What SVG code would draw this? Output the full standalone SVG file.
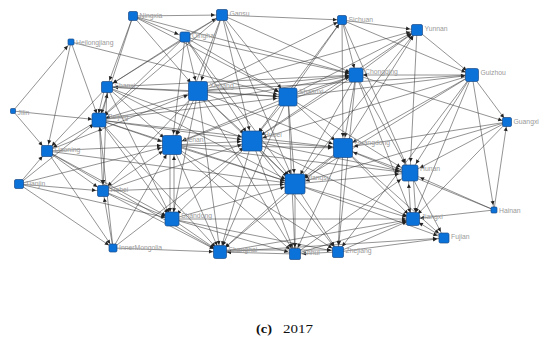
<svg xmlns="http://www.w3.org/2000/svg" width="550" height="346" viewBox="0 0 550 346">
<style>
.e line{stroke:#3a3a3a;stroke-width:0.55;fill:none}
.s{marker-end:url(#as)}
.m{marker-end:url(#am)}
.l{marker-end:url(#al)}
.node rect{fill:#0b72d9;stroke:#1d4a86;stroke-width:0.7}
.node text{font-family:"Liberation Sans",Arial,sans-serif;font-size:6.8px;fill:#999}
.cap{font-family:"Liberation Serif","Times New Roman",serif;font-size:13.5px;fill:#111}
</style>
<defs>
<marker id="as" markerWidth="20" markerHeight="6" refX="9" refY="2" orient="auto" markerUnits="userSpaceOnUse" overflow="visible"><path d="M0,0L4,2L0,4z" fill="#222"/></marker>
<marker id="am" markerWidth="20" markerHeight="6" refX="11" refY="2" orient="auto" markerUnits="userSpaceOnUse" overflow="visible"><path d="M0,0L4,2L0,4z" fill="#222"/></marker>
<marker id="al" markerWidth="20" markerHeight="6" refX="15" refY="2" orient="auto" markerUnits="userSpaceOnUse" overflow="visible"><path d="M0,0L4,2L0,4z" fill="#222"/></marker>
</defs>
<rect width="550" height="346" fill="#fff"/>
<g id="connectors" class="e">
<line x1="133" y1="16" x2="222" y2="15" class="m"/>
<line x1="133" y1="16" x2="107" y2="87" class="m"/>
<line x1="133" y1="16" x2="99" y2="120" class="m"/>
<line x1="133" y1="16" x2="198" y2="91" class="l"/>
<line x1="133" y1="16" x2="356" y2="75" class="m"/>
<line x1="133" y1="16" x2="288" y2="97" class="l"/>
<line x1="133" y1="16" x2="185" y2="37" class="m"/>
<line x1="222" y1="15" x2="342" y2="20" class="s"/>
<line x1="185" y1="37" x2="222" y2="15" class="m"/>
<line x1="222" y1="15" x2="198" y2="91" class="l"/>
<line x1="222" y1="15" x2="288" y2="97" class="l"/>
<line x1="222" y1="15" x2="356" y2="75" class="m"/>
<line x1="222" y1="15" x2="172" y2="145" class="l"/>
<line x1="222" y1="15" x2="252" y2="141" class="l"/>
<line x1="222" y1="15" x2="295" y2="184" class="l"/>
<line x1="222" y1="15" x2="99" y2="120" class="m"/>
<line x1="222" y1="15" x2="107" y2="87" class="m"/>
<line x1="185" y1="37" x2="198" y2="91" class="l"/>
<line x1="185" y1="37" x2="172" y2="145" class="l"/>
<line x1="185" y1="37" x2="99" y2="120" class="m"/>
<line x1="185" y1="37" x2="288" y2="97" class="l"/>
<line x1="185" y1="37" x2="356" y2="75" class="m"/>
<line x1="185" y1="37" x2="252" y2="141" class="l"/>
<line x1="185" y1="37" x2="295" y2="184" class="l"/>
<line x1="185" y1="37" x2="107" y2="87" class="m"/>
<line x1="342" y1="20" x2="417" y2="30" class="m"/>
<line x1="342" y1="20" x2="356" y2="75" class="m"/>
<line x1="342" y1="20" x2="472" y2="75" class="m"/>
<line x1="288" y1="97" x2="342" y2="20" class="s"/>
<line x1="198" y1="91" x2="342" y2="20" class="s"/>
<line x1="342" y1="20" x2="252" y2="141" class="l"/>
<line x1="342" y1="20" x2="410" y2="173" class="l"/>
<line x1="342" y1="20" x2="343" y2="148" class="l"/>
<line x1="417" y1="30" x2="472" y2="75" class="m"/>
<line x1="356" y1="75" x2="417" y2="30" class="m"/>
<line x1="288" y1="97" x2="417" y2="30" class="m"/>
<line x1="252" y1="141" x2="417" y2="30" class="m"/>
<line x1="417" y1="30" x2="410" y2="173" class="l"/>
<line x1="343" y1="148" x2="417" y2="30" class="m"/>
<line x1="295" y1="184" x2="417" y2="30" class="m"/>
<line x1="198" y1="91" x2="417" y2="30" class="m"/>
<line x1="71" y1="42" x2="47" y2="151" class="m"/>
<line x1="71" y1="42" x2="99" y2="120" class="m"/>
<line x1="13" y1="111" x2="71" y2="42" class="s"/>
<line x1="71" y1="42" x2="288" y2="97" class="l"/>
<line x1="13" y1="111" x2="99" y2="120" class="m"/>
<line x1="13" y1="111" x2="47" y2="151" class="m"/>
<line x1="105" y1="87" x2="97" y2="120" class="m"/>
<line x1="101" y1="120" x2="109" y2="87" class="m"/>
<line x1="198" y1="91" x2="107" y2="87" class="m"/>
<line x1="107" y1="87" x2="47" y2="151" class="m"/>
<line x1="107" y1="87" x2="103" y2="191" class="m"/>
<line x1="107" y1="87" x2="172" y2="219" class="m"/>
<line x1="107" y1="87" x2="172" y2="145" class="l"/>
<line x1="107" y1="87" x2="288" y2="97" class="l"/>
<line x1="107" y1="87" x2="252" y2="141" class="l"/>
<line x1="107" y1="87" x2="295" y2="184" class="l"/>
<line x1="107" y1="87" x2="356" y2="75" class="m"/>
<line x1="99" y1="120" x2="47" y2="151" class="m"/>
<line x1="19" y1="184" x2="99" y2="120" class="m"/>
<line x1="99" y1="120" x2="103" y2="191" class="m"/>
<line x1="198" y1="91" x2="99" y2="120" class="m"/>
<line x1="99" y1="120" x2="172" y2="145" class="l"/>
<line x1="99" y1="120" x2="288" y2="97" class="l"/>
<line x1="99" y1="120" x2="252" y2="141" class="l"/>
<line x1="99" y1="120" x2="295" y2="184" class="l"/>
<line x1="99" y1="120" x2="343" y2="148" class="l"/>
<line x1="99" y1="120" x2="172" y2="219" class="m"/>
<line x1="99" y1="120" x2="220" y2="252" class="m"/>
<line x1="113" y1="248" x2="99" y2="120" class="m"/>
<line x1="99" y1="120" x2="356" y2="75" class="m"/>
<line x1="19" y1="184" x2="47" y2="151" class="m"/>
<line x1="47" y1="151" x2="103" y2="191" class="m"/>
<line x1="47" y1="151" x2="172" y2="219" class="m"/>
<line x1="47" y1="151" x2="220" y2="252" class="m"/>
<line x1="47" y1="151" x2="172" y2="145" class="l"/>
<line x1="47" y1="151" x2="198" y2="91" class="l"/>
<line x1="47" y1="151" x2="295" y2="184" class="l"/>
<line x1="47" y1="151" x2="113" y2="248" class="s"/>
<line x1="19" y1="184" x2="103" y2="191" class="m"/>
<line x1="19" y1="184" x2="172" y2="219" class="m"/>
<line x1="19" y1="184" x2="113" y2="248" class="s"/>
<line x1="19" y1="184" x2="172" y2="145" class="l"/>
<line x1="103" y1="191" x2="172" y2="145" class="l"/>
<line x1="113" y1="248" x2="103" y2="191" class="m"/>
<line x1="103" y1="191" x2="172" y2="219" class="m"/>
<line x1="103" y1="191" x2="295" y2="184" class="l"/>
<line x1="103" y1="191" x2="220" y2="252" class="m"/>
<line x1="103" y1="191" x2="252" y2="141" class="l"/>
<line x1="198" y1="91" x2="103" y2="191" class="m"/>
<line x1="113" y1="248" x2="220" y2="252" class="m"/>
<line x1="113" y1="248" x2="172" y2="145" class="l"/>
<line x1="113" y1="248" x2="252" y2="141" class="l"/>
<line x1="198" y1="91" x2="288" y2="97" class="l"/>
<line x1="198" y1="91" x2="172" y2="145" class="l"/>
<line x1="198" y1="91" x2="172" y2="219" class="m"/>
<line x1="198" y1="91" x2="220" y2="252" class="m"/>
<line x1="198" y1="91" x2="252" y2="141" class="l"/>
<line x1="198" y1="91" x2="295" y2="184" class="l"/>
<line x1="198" y1="91" x2="356" y2="75" class="m"/>
<line x1="198" y1="91" x2="343" y2="148" class="l"/>
<line x1="198" y1="91" x2="295" y2="254" class="m"/>
<line x1="198" y1="91" x2="472" y2="75" class="m"/>
<line x1="288" y1="97" x2="356" y2="75" class="m"/>
<line x1="288" y1="97" x2="252" y2="141" class="l"/>
<line x1="288" y1="97" x2="172" y2="145" class="l"/>
<line x1="288" y1="97" x2="295" y2="184" class="l"/>
<line x1="288" y1="97" x2="343" y2="148" class="l"/>
<line x1="288" y1="97" x2="410" y2="173" class="l"/>
<line x1="288" y1="97" x2="295" y2="254" class="m"/>
<line x1="288" y1="97" x2="220" y2="252" class="m"/>
<line x1="288" y1="97" x2="472" y2="75" class="m"/>
<line x1="472" y1="75" x2="356" y2="75" class="m"/>
<line x1="356" y1="75" x2="343" y2="148" class="l"/>
<line x1="356" y1="75" x2="410" y2="173" class="l"/>
<line x1="356" y1="75" x2="413" y2="219" class="m"/>
<line x1="356" y1="75" x2="252" y2="141" class="l"/>
<line x1="356" y1="75" x2="172" y2="145" class="l"/>
<line x1="356" y1="75" x2="295" y2="184" class="l"/>
<line x1="356" y1="75" x2="507" y2="122" class="s"/>
<line x1="356" y1="75" x2="338" y2="252" class="m"/>
<line x1="472" y1="75" x2="507" y2="122" class="s"/>
<line x1="472" y1="75" x2="410" y2="173" class="l"/>
<line x1="472" y1="75" x2="413" y2="219" class="m"/>
<line x1="472" y1="75" x2="494" y2="210" class="s"/>
<line x1="472" y1="75" x2="343" y2="148" class="l"/>
<line x1="472" y1="75" x2="252" y2="141" class="l"/>
<line x1="472" y1="75" x2="295" y2="184" class="l"/>
<line x1="472" y1="75" x2="338" y2="252" class="m"/>
<line x1="494" y1="210" x2="507" y2="122" class="s"/>
<line x1="507" y1="122" x2="410" y2="173" class="l"/>
<line x1="507" y1="122" x2="343" y2="148" class="l"/>
<line x1="507" y1="122" x2="413" y2="219" class="m"/>
<line x1="507" y1="122" x2="295" y2="184" class="l"/>
<line x1="494" y1="210" x2="413" y2="219" class="m"/>
<line x1="494" y1="210" x2="410" y2="173" class="l"/>
<line x1="494" y1="210" x2="343" y2="148" class="l"/>
<line x1="170" y1="145" x2="170" y2="219" class="m"/>
<line x1="174" y1="219" x2="174" y2="145" class="l"/>
<line x1="172" y1="145" x2="252" y2="141" class="l"/>
<line x1="172" y1="145" x2="295" y2="184" class="l"/>
<line x1="172" y1="145" x2="220" y2="252" class="m"/>
<line x1="172" y1="145" x2="295" y2="254" class="m"/>
<line x1="172" y1="145" x2="343" y2="148" class="l"/>
<line x1="172" y1="145" x2="338" y2="252" class="m"/>
<line x1="172" y1="145" x2="410" y2="173" class="l"/>
<line x1="252" y1="141" x2="295" y2="184" class="l"/>
<line x1="252" y1="141" x2="343" y2="148" class="l"/>
<line x1="252" y1="141" x2="220" y2="252" class="m"/>
<line x1="252" y1="141" x2="295" y2="254" class="m"/>
<line x1="252" y1="141" x2="338" y2="252" class="m"/>
<line x1="252" y1="141" x2="410" y2="173" class="l"/>
<line x1="252" y1="141" x2="413" y2="219" class="m"/>
<line x1="252" y1="141" x2="172" y2="219" class="m"/>
<line x1="343" y1="148" x2="295" y2="184" class="l"/>
<line x1="343" y1="148" x2="410" y2="173" class="l"/>
<line x1="343" y1="148" x2="413" y2="219" class="m"/>
<line x1="343" y1="148" x2="338" y2="252" class="m"/>
<line x1="343" y1="148" x2="295" y2="254" class="m"/>
<line x1="343" y1="148" x2="220" y2="252" class="m"/>
<line x1="343" y1="148" x2="444" y2="238" class="m"/>
<line x1="295" y1="184" x2="220" y2="252" class="m"/>
<line x1="295" y1="184" x2="295" y2="254" class="m"/>
<line x1="295" y1="184" x2="338" y2="252" class="m"/>
<line x1="295" y1="184" x2="410" y2="173" class="l"/>
<line x1="295" y1="184" x2="413" y2="219" class="m"/>
<line x1="172" y1="219" x2="295" y2="184" class="l"/>
<line x1="295" y1="184" x2="444" y2="238" class="m"/>
<line x1="172" y1="219" x2="220" y2="252" class="m"/>
<line x1="172" y1="219" x2="295" y2="254" class="m"/>
<line x1="172" y1="219" x2="338" y2="252" class="m"/>
<line x1="172" y1="219" x2="413" y2="219" class="m"/>
<line x1="295" y1="254" x2="220" y2="252" class="m"/>
<line x1="338" y1="252" x2="295" y2="254" class="m"/>
<line x1="220" y1="250" x2="338" y2="250" class="m"/>
<line x1="338" y1="252" x2="444" y2="238" class="m"/>
<line x1="338" y1="252" x2="413" y2="219" class="m"/>
<line x1="295" y1="254" x2="413" y2="219" class="m"/>
<line x1="411" y1="219" x2="408" y2="173" class="l"/>
<line x1="413" y1="173" x2="416" y2="219" class="m"/>
<line x1="444" y1="238" x2="413" y2="219" class="m"/>
<line x1="410" y1="173" x2="444" y2="238" class="m"/>
<line x1="295" y1="254" x2="410" y2="173" class="l"/>
<line x1="220" y1="252" x2="413" y2="219" class="m"/>
<line x1="220" y1="252" x2="444" y2="238" class="m"/>
</g>
<g id="n-ningxia" class="node"><rect x="128.5" y="11.5" width="9" height="9" rx="1.5"/><text x="139.5" y="17.5">Ningxia</text></g>
<g id="n-gansu" class="node"><rect x="216.5" y="9.5" width="11" height="11" rx="1.5"/><text x="229.5" y="15.5">Gansu</text></g>
<g id="n-qinghai" class="node"><rect x="180" y="32" width="10" height="10" rx="1.5"/><text x="192" y="38">Qinghai</text></g>
<g id="n-sichuan" class="node"><rect x="337.5" y="15.5" width="9" height="9" rx="1.5"/><text x="348.5" y="21.5">Sichuan</text></g>
<g id="n-yunnan" class="node"><rect x="411.5" y="24.5" width="11" height="11" rx="1.5"/><text x="424.5" y="30.5">Yunnan</text></g>
<g id="n-heilongjiang" class="node"><rect x="68" y="39" width="6" height="6" rx="1"/><text x="76" y="45">Heilongjiang</text></g>
<g id="n-shanxi" class="node"><rect x="101.5" y="81.5" width="11" height="11" rx="1.5"/><text x="114.5" y="87.5">Shanxi</text></g>
<g id="n-xinjiang" class="node"><rect x="188.5" y="81.5" width="19" height="19" rx="2"/><text x="209.5" y="87.5">Xinjiang</text></g>
<g id="n-shaanxi" class="node"><rect x="279" y="88" width="18" height="18" rx="2"/><text x="299" y="94">Shaanxi</text></g>
<g id="n-chongqing" class="node"><rect x="349" y="68" width="14" height="14" rx="2"/><text x="365" y="74">Chongqing</text></g>
<g id="n-guizhou" class="node"><rect x="465.5" y="68.5" width="13" height="13" rx="2"/><text x="480.5" y="74.5">Guizhou</text></g>
<g id="n-guangxi" class="node"><rect x="502.5" y="117.5" width="9" height="9" rx="1.5"/><text x="513.5" y="123.5">Guangxi</text></g>
<g id="n-jilin" class="node"><rect x="10.5" y="108.5" width="5" height="5" rx="1"/><text x="17.5" y="114.5">Jilin</text></g>
<g id="n-beijing" class="node"><rect x="92" y="113" width="14" height="14" rx="2"/><text x="108" y="119">Beijing</text></g>
<g id="n-liaoning" class="node"><rect x="41.5" y="145.5" width="11" height="11" rx="1.5"/><text x="54.5" y="151.5">Liaoning</text></g>
<g id="n-tianjin" class="node"><rect x="14.5" y="179.5" width="9" height="9" rx="1.5"/><text x="25.5" y="185.5">Tianjin</text></g>
<g id="n-hebei" class="node"><rect x="97.5" y="185.5" width="11" height="11" rx="1.5"/><text x="110.5" y="191.5">Hebei</text></g>
<g id="n-innermongolia" class="node"><rect x="109" y="244" width="8" height="8" rx="1.5"/><text x="119" y="250">InnerMongolia</text></g>
<g id="n-henan" class="node"><rect x="162.5" y="135.5" width="19" height="19" rx="2"/><text x="183.5" y="141.5">Henan</text></g>
<g id="n-hubei" class="node"><rect x="242" y="131" width="20" height="20" rx="2"/><text x="264" y="137">Hubei</text></g>
<g id="n-guangdong" class="node"><rect x="333.5" y="138.5" width="19" height="19" rx="2"/><text x="354.5" y="144.5">Guangdong</text></g>
<g id="n-jiangsu" class="node"><rect x="285" y="174" width="20" height="20" rx="2"/><text x="307" y="180">Jiangsu</text></g>
<g id="n-shandong" class="node"><rect x="165" y="212" width="14" height="14" rx="2"/><text x="181" y="218">Shandong</text></g>
<g id="n-shanghai" class="node"><rect x="213.5" y="245.5" width="13" height="13" rx="2"/><text x="228.5" y="251.5">Shanghai</text></g>
<g id="n-anhui" class="node"><rect x="289.5" y="248.5" width="11" height="11" rx="1.5"/><text x="302.5" y="254.5">Anhui</text></g>
<g id="n-zhejiang" class="node"><rect x="332.5" y="246.5" width="11" height="11" rx="1.5"/><text x="345.5" y="252.5">Zhejiang</text></g>
<g id="n-hunan" class="node"><rect x="402" y="165" width="16" height="16" rx="2"/><text x="420" y="171">Hunan</text></g>
<g id="n-jiangxi" class="node"><rect x="406.5" y="212.5" width="13" height="13" rx="2"/><text x="421.5" y="218.5">Jiangxi</text></g>
<g id="n-fujian" class="node"><rect x="439" y="233" width="10" height="10" rx="1.5"/><text x="451" y="239">Fujian</text></g>
<g id="n-hainan" class="node"><rect x="491" y="207" width="6" height="6" rx="1"/><text x="499" y="213">Hainan</text></g>
<g id="caption"><text class="cap" x="256" y="333" font-weight="bold" textLength="16" lengthAdjust="spacingAndGlyphs">(c)</text><text class="cap" x="283" y="333" textLength="30" lengthAdjust="spacingAndGlyphs">2017</text></g>
</svg>
